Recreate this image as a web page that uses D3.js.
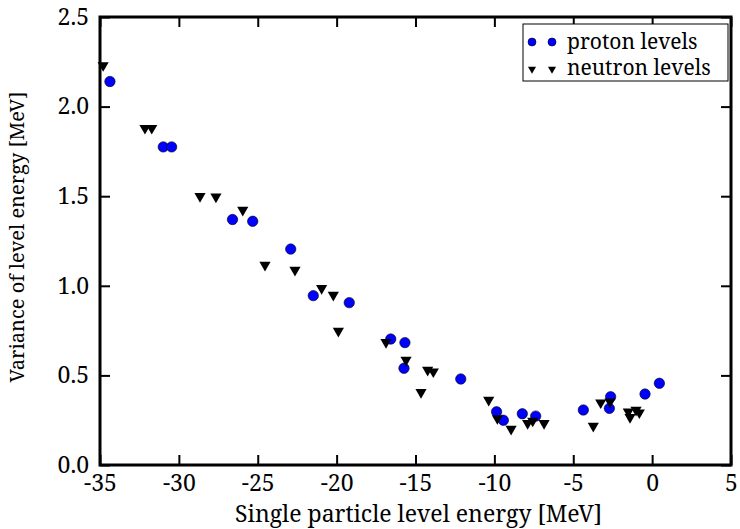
<!DOCTYPE html>
<html>
<head>
<meta charset="utf-8">
<script src="https://cdn.jsdelivr.net/npm/d3@7"></script>
<style>
  body { margin: 0; background: #fff; }
  svg { display: block; }
  text { font-family: "Noto Serif", "DejaVu Serif", serif; fill: #000; }
</style>
</head>
<body>
<div id="chart"></div>
<script>
// proton levels [energy MeV, variance MeV]
const protonX = [-34.37, -30.99, -30.46, -26.6, -25.32, -22.91, -21.48, -19.2, -16.57, -15.67, -15.73,
  -12.13, -9.86, -9.43, -8.23, -7.38, -4.36, -2.63, -2.71, -0.45, 0.46];
const protonY = [2.14, 1.775, 1.775, 1.37, 1.36, 1.205, 0.945, 0.906, 0.703, 0.683, 0.54,
  0.48, 0.297, 0.25, 0.286, 0.273, 0.307, 0.381, 0.316, 0.396, 0.456];

// neutron levels
const neutronX = [-34.8, -32.15, -31.72, -28.66, -27.65, -25.95, -24.54, -22.64, -20.95, -20.21, -19.89,
  -16.87, -15.6, -14.65, -14.23, -13.87, -10.36, -9.81, -8.94, -7.89, -7.57, -6.85,
  -3.73, -3.26, -2.67, -1.51, -1.4, -1.02, -0.81];
const neutronY = [2.23, 1.88, 1.88, 1.5, 1.497, 1.423, 1.116, 1.088, 0.986, 0.949, 0.748,
  0.685, 0.586, 0.406, 0.53, 0.521, 0.363, 0.26, 0.201, 0.233, 0.246, 0.233,
  0.218, 0.348, 0.353, 0.297, 0.266, 0.307, 0.292];

const xTicks = [-35, -30, -25, -20, -15, -10, -5, 0, 5];
const yTicks = [0, 0.5, 1.0, 1.5, 2.0, 2.5];
const legendLabels = ['proton levels', 'neutron levels'];

const W = 740, H = 529;
const margin = {t:17, r:9, b:64, l:100};
const innerWidth = W - margin.l - margin.r;
const innerHeight = H - margin.t - margin.b;

const scaleX = d3.scaleLinear().domain([-35, 5]).range([0, innerWidth]);
const scaleY = d3.scaleLinear().domain([0, 2.5]).range([innerHeight, 0]);

const svg = d3.select('#chart').append('svg')
  .attr('width', W)
  .attr('height', H);
const plot = svg.append('g')
  .attr('transform', `translate(${margin.l}, ${margin.t})`);

const fmtY = d3.format('.1f');
const tickLen = 10;
const serif = '"Noto Serif", "DejaVu Serif", serif';

// axes, ticks pointing inward on all sides
const axisBottom = d3.axisBottom(scaleX).tickValues(xTicks).tickSizeInner(-tickLen).tickSizeOuter(0).tickPadding(10).tickFormat(d => String(d));
const axisTop = d3.axisTop(scaleX).tickValues(xTicks).tickSizeInner(-tickLen).tickSizeOuter(0);
const axisLeft = d3.axisLeft(scaleY).tickValues(yTicks).tickSizeInner(-tickLen).tickSizeOuter(0).tickPadding(11).tickFormat(fmtY);
const axisRight = d3.axisRight(scaleY).tickValues(yTicks).tickSizeInner(-tickLen).tickSizeOuter(0);

function styleAxis(g){
  g.select('.domain').remove();
  g.attr('font-family', serif);
  g.selectAll('line').attr('stroke', '#000').attr('stroke-width', 2);
  g.selectAll('text').style('font-size', '23px').style('font-family', serif);
}

plot.append('g').attr('transform', `translate(0, ${innerHeight})`).call(axisBottom).call(styleAxis);
plot.append('g').call(axisTop).call(styleAxis).selectAll('text').remove();
plot.append('g').call(axisLeft).call(styleAxis);
plot.append('g').attr('transform', `translate(${innerWidth}, 0)`).call(axisRight).call(styleAxis).selectAll('text').remove();

// points
const protons = protonX.map((x, i) => ({x, y: protonY[i]}));
const neutrons = neutronX.map((x, i) => ({x, y: neutronY[i]}));

const circle = d3.symbol().type(d3.symbolCircle).size(Math.PI * 5.2 * 5.2);
const tri = d3.symbol().type(d3.symbolTriangle).size(54);

plot.append('g').selectAll('path')
  .data(protons)
  .join('path')
  .attr('d', circle)
  .attr('transform', d => `translate(${scaleX(d.x)}, ${scaleY(d.y)})`)
  .attr('fill', '#0000ff')
  .attr('stroke', '#000')
  .attr('stroke-width', 0.6);

plot.append('g').selectAll('path')
  .data(neutrons)
  .join('path')
  .attr('d', tri)
  .attr('transform', d => `translate(${scaleX(d.x)}, ${scaleY(d.y)}) rotate(180)`)
  .attr('fill', '#000');

// frame
plot.append('rect')
  .attr('width', innerWidth)
  .attr('height', innerHeight)
  .attr('fill', 'none')
  .attr('stroke', '#000')
  .attr('stroke-width', 3);

// legend
const legend = plot.append('g').attr('transform', `translate(${innerWidth - 208}, 7)`);
legend.append('rect')
  .attr('width', 205)
  .attr('height', 57)
  .attr('fill', '#fff')
  .attr('stroke', '#000')
  .attr('stroke-width', 1);

const smallCircle = d3.symbol().type(d3.symbolCircle).size(Math.PI * 4 * 4);
const smallTri = d3.symbol().type(d3.symbolTriangle).size(28);
legendLabels.forEach((lab, i) => {
  const row = legend.append('g').attr('transform', `translate(0, ${18 + i * 26})`);
  [9, 29].forEach(cx => {
    if (i === 0) {
      row.append('path').attr('d', smallCircle).attr('transform', `translate(${cx}, 0)`)
        .attr('fill', '#0000ff').attr('stroke', '#000').attr('stroke-width', 0.6);
    } else {
      row.append('path').attr('d', smallTri).attr('transform', `translate(${cx}, 1) rotate(180)`)
        .attr('fill', '#000');
    }
  });
  row.append('text')
    .attr('x', 44)
    .attr('y', 7)
    .style('font-size', '21px')
    .text(lab);
});

// axis labels
svg.append('text')
  .attr('x', margin.l + innerWidth / 2 + 3)
  .attr('y', 522)
  .attr('text-anchor', 'middle')
  .style('font-size', '23px')
  .text('Single particle level energy [MeV]');

svg.append('text')
  .attr('transform', `translate(24, ${margin.t + innerHeight / 2 - 4}) rotate(-90)`)
  .attr('text-anchor', 'middle')
  .style('font-size', '20px')
  .text('Variance of level energy [MeV]');
</script>
</body>
</html>
